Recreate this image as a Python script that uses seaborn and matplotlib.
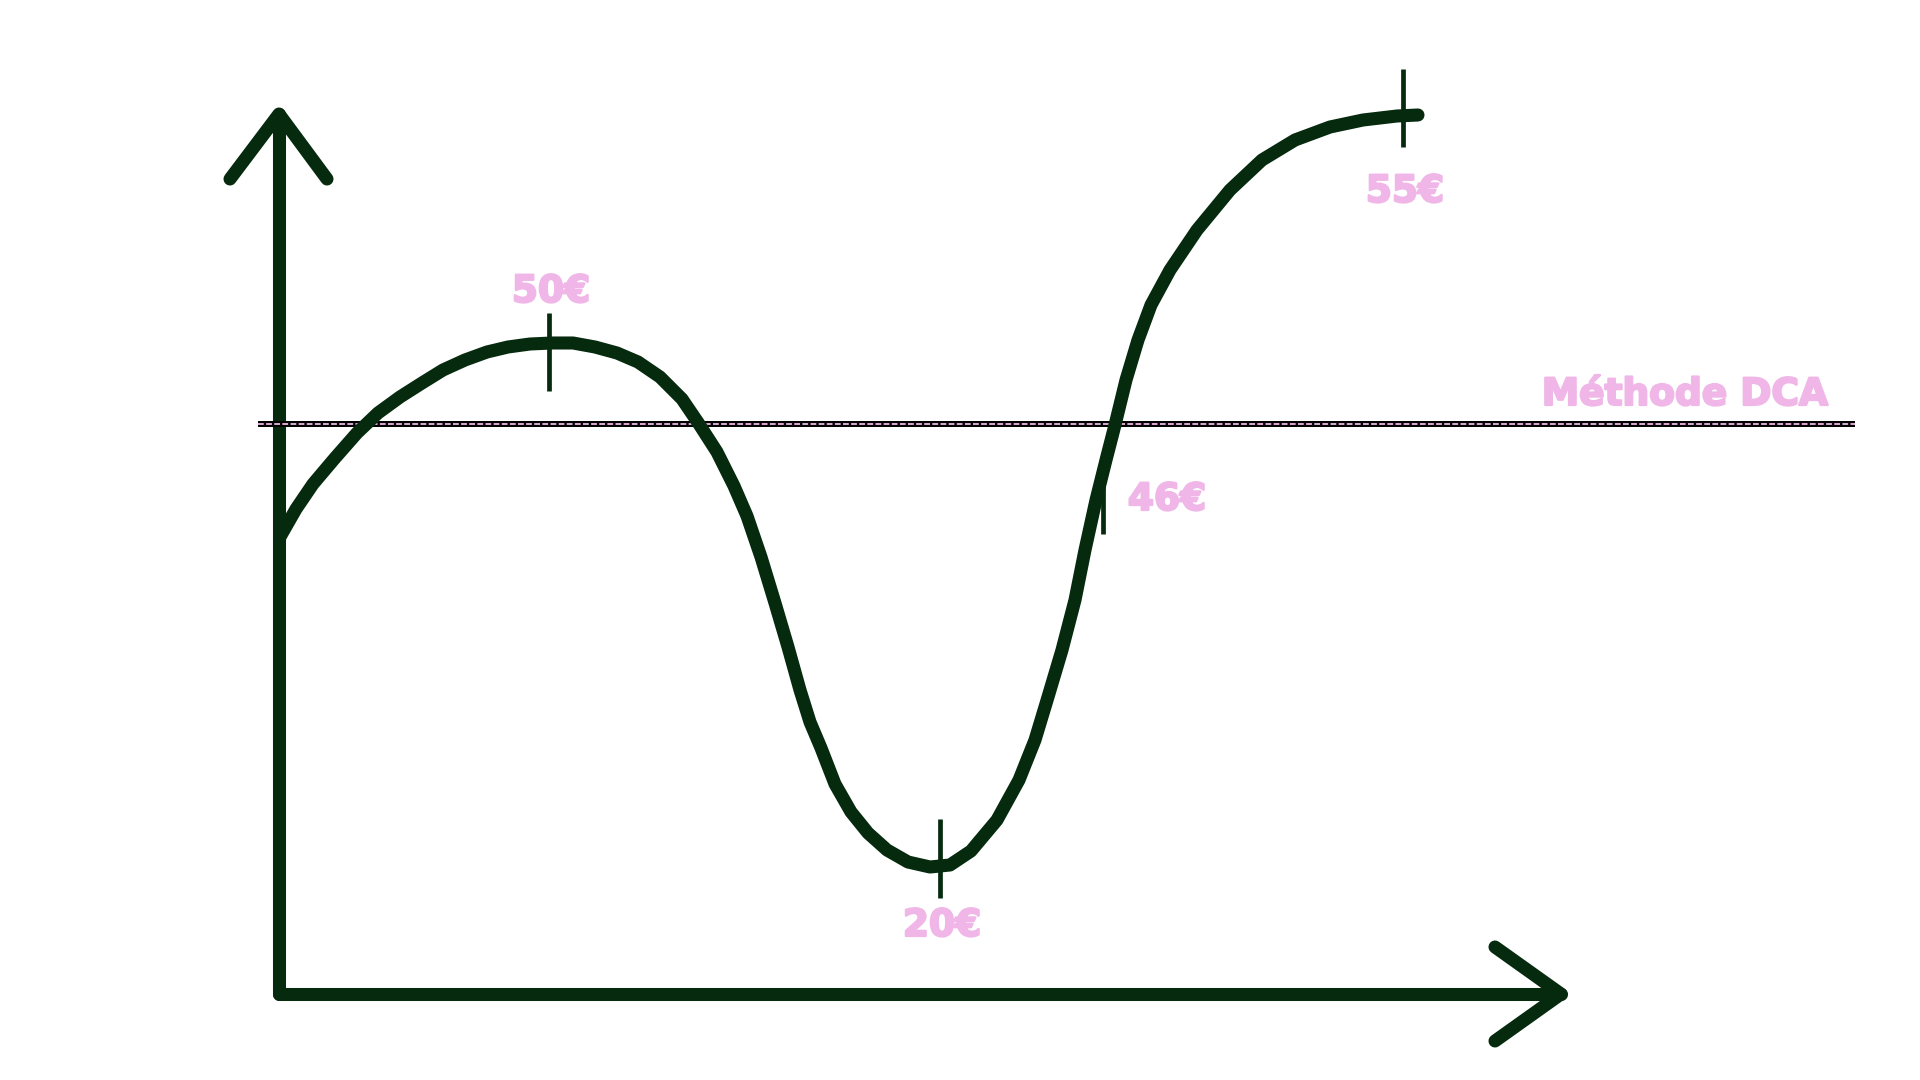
"""
plot.py - DCA illustration: price path with marked buy points
"""

import numpy as np
import matplotlib
matplotlib.use('Agg')
import matplotlib.pyplot as plt
import matplotlib.patheffects as pe
import seaborn as sns

# price path (chart units, origin = where the two axes meet)
curve_x = [1, 17, 34, 56, 78, 99, 121, 143, 164, 186, 208, 229, 251, 273, 294, 316,
           338, 359, 381, 403, 420, 438, 455, 468, 482, 496, 509, 521, 531, 542, 556,
           572, 589, 608, 629, 651, 671, 692, 718, 740, 756, 769, 783, 796, 806, 817,
           827, 836, 847, 859, 872, 891, 918, 951, 983, 1016, 1051, 1084, 1118, 1139]
curve_y = [457, 485, 510, 536, 561, 581, 597, 611, 624, 634, 642, 647, 650, 651, 651, 647,
           641, 632, 617, 595, 570, 542, 508, 478, 437, 391, 347, 304, 272, 246, 210,
           182, 161, 144, 132, 127, 129, 143, 174, 214, 254, 297, 344, 394, 444, 494,
           534, 569, 614, 654, 689, 724, 764, 804, 834, 854, 867, 874, 878, 879]

# buy points: label, tick x, tick bottom, tick top, label position (baseline)
price_labels = ['50€', '20€', '46€', '55€']
tick_x = [270, 661, 824, 1124]
tick_low = [603, 96, 460, 847]
tick_high = [681, 175, 539, 925]
label_x = [272, 663, 888, 1126]
label_y = [692, 58, 484, 792]

# DCA average line
dca_label = 'Méthode DCA'
dca_level = 570
dca_start, dca_end = -21, 1576

# axis arrows
x_axis_len = 1282
y_axis_len = 880

GREEN = '#052a0e'
PINK = '#efb6e7'

sns.set_theme(style='white')
plt.rcParams['font.family'] = ['DejaVu Sans']

fig = plt.figure(figsize=(19.2, 10.8), dpi=100)
ax = fig.add_axes([0, 0, 1, 1])
ax.set_xlim(-279, 1641)
ax.set_ylim(-86, 994)
ax.axis('off')

# axes with arrow heads
axis_kw = dict(color=GREEN, lw=9.4, solid_capstyle='round', solid_joinstyle='round')
ax.plot([0, 0], [0, y_axis_len], **axis_kw)
ax.plot([0, x_axis_len], [0, 0], **axis_kw)
ax.plot([-49, 0, 48], [y_axis_len - 65, y_axis_len, y_axis_len - 65], **axis_kw)
ax.plot([x_axis_len - 66, x_axis_len, x_axis_len - 66], [47, 0, -47], **axis_kw)

# DCA line: black line with pink dashes on top
ax.plot([dca_start, dca_end], [dca_level, dca_level], color='black', lw=4.3, zorder=3,
        solid_capstyle='butt')
ax.plot([dca_start, dca_end], [dca_level, dca_level], color=PINK, lw=1.3,
        dashes=(3.2, 1.3), zorder=4)

# heavier look for the labels
bold_fx = [pe.withStroke(linewidth=1.6, foreground=PINK)]
ax.text(1406, 589, dca_label, color=PINK, fontsize=27, fontweight='bold',
        ha='center', va='baseline', path_effects=bold_fx)

# price curve
sns.lineplot(x=curve_x, y=curve_y, sort=False, ax=ax, color=GREEN, lw=9.4, zorder=5,
             solid_capstyle='round', solid_joinstyle='round')

# buy point ticks and labels
for i, lab in enumerate(price_labels):
    ax.plot([tick_x[i], tick_x[i]], [tick_low[i], tick_high[i]], color=GREEN, lw=3.4,
            solid_capstyle='butt', zorder=6)
    ax.text(label_x[i], label_y[i], lab, color=PINK, fontsize=27, fontweight='bold',
            ha='center', va='baseline', zorder=7, path_effects=bold_fx)

fig.savefig('out.png', dpi=100, facecolor='white')
plt.close()
